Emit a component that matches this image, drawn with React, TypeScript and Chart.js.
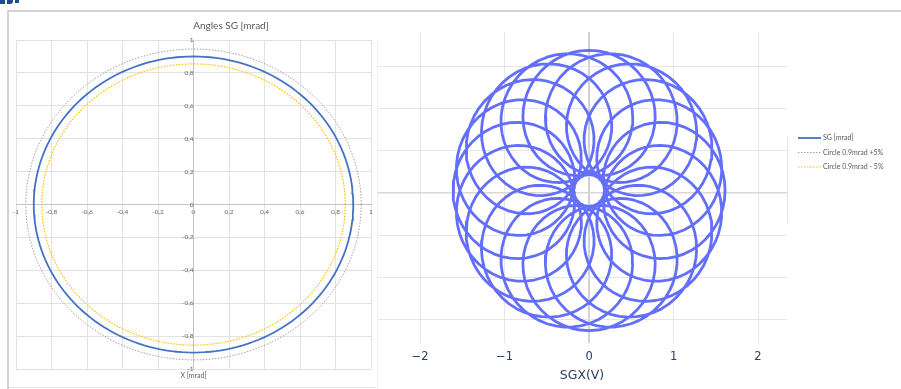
import { useEffect, useRef } from "react";
import { Chart, registerables } from "chart.js";

Chart.register(...registerables);

// ---- Angles SG [mrad] ----
const seriesNames = ["SG [mrad]", "Circle 0.9mrad +5%", "Circle 0.9mrad - 5%"];
const seriesRadii = [0.9, 0.945, 0.855];
const seriesColors = ["#4472C4", "#A0A0A0", "#FFC000"];
const seriesWidths = [1.8, 1, 1.2];
const seriesDash = [[], [1.5, 1.5], [1.5, 1.5]];
const angleStepDeg = 2;
const sgTitle = "Angles SG [mrad]";
const sgAxisTitle = "X [mrad]";

// ---- SGX(V) trace: a ring of loops ----
const loopCount = 20;
const ringRadius = 0.895;
const loopRadius = 0.715;
const loopPhase = 0;
const traceOffset = [0, 0.03];
const traceScale = [1, 1.03];
const samplesPerLoop = 48;
const sgxRange = [-2.51, 2.343];
const sgyRange = [-1.775, 1.905];

function circlePoints(r: number) {
  const pts: { x: number; y: number }[] = [];
  for (let d = 0; d <= 360; d += angleStepDeg) {
    const a = (d * Math.PI) / 180;
    pts.push({ x: r * Math.cos(a), y: r * Math.sin(a) });
  }
  return pts;
}

function tracePoints() {
  const pts: { x: number; y: number }[] = [];
  const n = loopCount * samplesPerLoop;
  const k = 1 + loopCount;
  for (let i = 0; i <= n; i++) {
    const t = (i / n) * Math.PI * 2;
    const u = ringRadius * Math.cos(t) + loopRadius * Math.cos(k * t + loopPhase);
    const v = ringRadius * Math.sin(t) + loopRadius * Math.sin(k * t + loopPhase);
    pts.push({ x: traceOffset[0] + traceScale[0] * u, y: traceOffset[1] + traceScale[1] * v });
  }
  return pts;
}

const commaLabel = (v: number | string) => String(Math.round(Number(v) * 10) / 10).replace(".", ",");
const minusLabel = (v: number | string) => (Number(v) < 0 ? "\u2212" + Math.abs(Number(v)) : String(v));

const excelText = {
  id: "excelText",
  afterDraw(chart: any) {
    const { ctx, chartArea } = chart;
    ctx.save();
    ctx.fillStyle = "#595959";
    ctx.textBaseline = "middle";
    ctx.textAlign = "center";
    ctx.font = "10px Lato";
    ctx.fillText(sgTitle, 231, 26);
    ctx.font = "7px Lato";
    ctx.fillText(sgAxisTitle, (chartArea.left + chartArea.right) / 2, 376);
    // legend
    ctx.textAlign = "left";
    chart.data.datasets.forEach((ds: any, i: number) => {
      const y = 138 + i * 14.5;
      ctx.strokeStyle = ds.borderColor;
      ctx.lineWidth = ds.borderWidth;
      ctx.setLineDash(ds.borderDash || []);
      ctx.beginPath();
      ctx.moveTo(798, y);
      ctx.lineTo(821, y);
      ctx.stroke();
      ctx.setLineDash([]);
      ctx.fillText(ds.label, 823, y);
    });
    ctx.restore();
  },
};

const gridColorFor = (base: string, zero: string) => (c: any) => (c.tick && c.tick.value === 0 ? zero : base);

export default function App() {
  const excelRef = useRef<HTMLCanvasElement>(null);
  const plotRef = useRef<HTMLCanvasElement>(null);

  useEffect(() => {
    const tickFont = { family: "Lato", size: 6.5 };
    const excel = new Chart(excelRef.current!, {
      type: "scatter",
      data: {
        datasets: seriesNames.map((name, i) => ({
          label: name,
          data: circlePoints(seriesRadii[i]),
          showLine: true,
          borderColor: seriesColors[i],
          backgroundColor: seriesColors[i],
          borderWidth: seriesWidths[i],
          borderDash: seriesDash[i],
          pointRadius: 0,
          fill: false,
        })),
      },
      options: {
        animation: false,
        responsive: false,
        maintainAspectRatio: false,
        layout: { padding: { left: 16, top: 40, right: 530, bottom: 20 } },
        plugins: { legend: { display: false }, tooltip: { enabled: false } },
        scales: {
          x: {
            type: "linear",
            position: { y: 0 } as any,
            min: -1,
            max: 1,
            ticks: { stepSize: 0.2, callback: commaLabel, color: "#666666", font: tickFont, padding: 4, maxRotation: 0, autoSkip: false },
            grid: { color: "#e2e2e2", drawTicks: false },
            border: { color: "#c4c4c4" },
          },
          y: {
            type: "linear",
            position: { x: 0 } as any,
            min: -1,
            max: 1,
            ticks: { stepSize: 0.2, callback: commaLabel, color: "#666666", font: tickFont, padding: 5, autoSkip: false },
            grid: { color: "#e2e2e2", drawTicks: false },
            border: { color: "#c4c4c4" },
          },
        },
      },
      plugins: [excelText],
    } as any);

    const plot = new Chart(plotRef.current!, {
      type: "scatter",
      data: {
        datasets: [
          {
            label: "SGY(V)",
            data: tracePoints(),
            showLine: true,
            borderColor: "#636EFA",
            backgroundColor: "#636EFA",
            borderWidth: 2.8,
            borderJoinStyle: "round",
            borderCapStyle: "round",
            pointRadius: 0,
            fill: false,
          },
        ],
      },
      options: {
        animation: false,
        responsive: false,
        maintainAspectRatio: false,
        layout: { padding: { left: 2, right: 3, top: 19, bottom: 0 } },
        plugins: { legend: { display: false }, tooltip: { enabled: false } },
        scales: {
          x: {
            type: "linear",
            min: sgxRange[0],
            max: sgxRange[1],
            afterFit: (s: any) => {
              s.height = 46;
            },
            ticks: {
              stepSize: 1,
              includeBounds: false,
              callback: minusLabel,
              color: "#2a3f5f",
              font: { family: "DejaVu Sans", size: 11.5 },
              padding: 7,
              maxRotation: 0,
            },
            grid: {
              color: gridColorFor("#e6e6e6", "#d2d2d2"),
              lineWidth: (c: any) => (c.tick && c.tick.value === 0 ? 2 : 1),
              drawTicks: false,
            },
            border: { display: false },
            title: {
              display: true,
              text: "SGX(V)",
              color: "#2a3f5f",
              font: { family: "DejaVu Sans", size: 12.5 },
              padding: { top: 0, bottom: 6 },
            },
          },
          y: {
            type: "linear",
            min: sgyRange[0],
            max: sgyRange[1],
            afterFit: (s: any) => {
              s.width = 0;
            },
            ticks: { display: false, stepSize: 0.5, includeBounds: false },
            grid: {
              color: gridColorFor("#e6e6e6", "#d8d8d8"),
              lineWidth: (c: any) => (c.tick && c.tick.value === 0 ? 1.5 : 1),
              drawTicks: false,
            },
            border: { display: false },
          },
        },
      },
    } as any);

    return () => {
      excel.destroy();
      plot.destroy();
    };
  }, []);

  const abs = (s: any) => ({ position: "absolute" as const, ...s });

  return (
    <div style={{ position: "fixed", left: 0, top: 0, width: 901, height: 389, background: "#fff", overflow: "hidden" }}>
      {/* logo fragment */}
      <div style={abs({ left: 0, top: 0, width: 5, height: 4, background: "#1d4f8f" })} />
      <div style={abs({ left: 7, top: 0, width: 6, height: 4, background: "#1d4f8f", borderBottomRightRadius: 3 })} />
      <div style={abs({ left: 15, top: 0, width: 4, height: 3, background: "#1d4f8f" })} />
      {/* chart frame */}
      <div style={abs({ left: 7, top: 10, width: 900, height: 379, borderTop: "2px solid #d2d2d2", borderLeft: "2px solid #d2d2d2", boxSizing: "border-box" })} />
      <div style={abs({ left: 9, top: 387, width: 368, height: 1, background: "#e4e4e4" })} />
      <canvas ref={excelRef} width={901} height={389} style={abs({ left: 0, top: 0 })} />
      {/* SGX overlay */}
      <div style={abs({ left: 375, top: 13, width: 415, height: 376, background: "#fff" })}>
        <canvas ref={plotRef} width={415} height={376} style={abs({ left: 0, top: 0 })} />
      </div>
      <div style={abs({ left: 377, top: 40, width: 1, height: 349, background: "#f0f0f0" })} />
      <div style={abs({ left: 787, top: 137, width: 1, height: 86, background: "#e4e4e4" })} />
    </div>
  );
}
